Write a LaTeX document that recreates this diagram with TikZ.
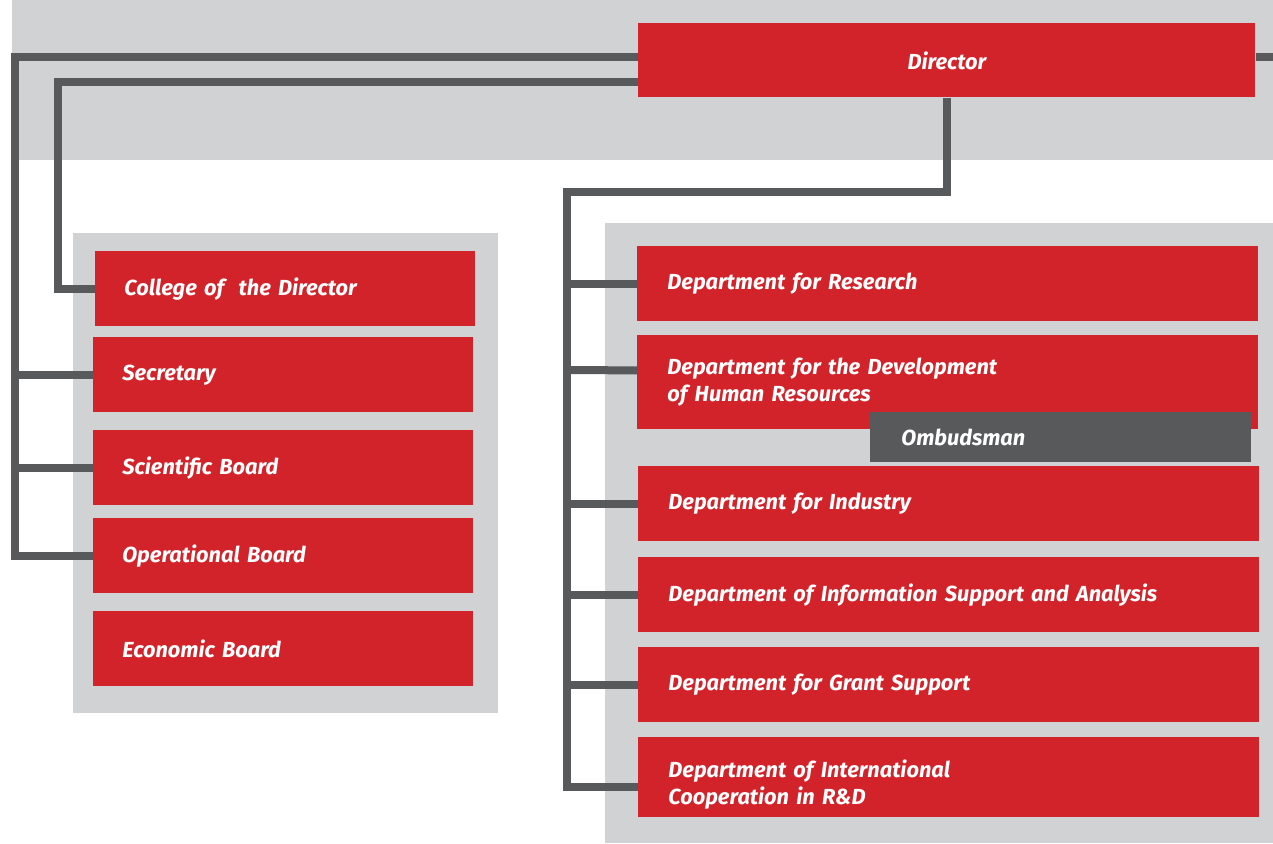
\documentclass[tikz,border=0pt]{standalone}
\usepackage{fontspec}
\setmainfont{Fira Sans}
\usetikzlibrary{calc}

\definecolor{boxred}{HTML}{D2232A}
\definecolor{panelgray}{HTML}{D1D2D4}
\definecolor{linegray}{HTML}{58595B}

\begin{document}
\begin{tikzpicture}[x=0.5pt, y=-0.5pt]

    \tikzstyle{panel} = [fill=panelgray];
    \tikzstyle{unit} = [fill=boxred, text=white, anchor=north west, align=left,
        font=\fontsize{10.9}{13.5}\selectfont\bfseries\itshape, inner ysep=0pt];
    \tikzstyle{leftunit} = [unit, text width=161pt, inner xsep=14.5pt, minimum height=37.5pt];
    \tikzstyle{rightunit} = [unit, text width=280.5pt, inner xsep=15pt, minimum height=37.5pt];
    \tikzstyle{link} = [draw=linegray, line width=4pt];

    \useasboundingbox (0,0) rectangle (1273,843);

    % Panels
    \fill[panel] (12,0) rectangle (1273,160);
    \fill[panel] (73,233) rectangle (498,713);
    \fill[panel] (605,223) rectangle (1273,843);

    % Top
    \node[fill=boxred, text=white, anchor=north west, minimum width=308.5pt, minimum height=37pt,
        font=\fontsize{10.9}{12}\selectfont\bfseries\itshape] (DIR) at (638,23) {Director};

    % Left - Boards
    \node[leftunit] (COL) at (95,251) {College of\ \ the Director};
    \node[leftunit] (SEC) at (93,337) {Secretary};
    \node[leftunit] (SCB) at (93,430) {Scientific Board};
    \node[leftunit] (OPB) at (93,518) {Operational Board};
    \node[leftunit] (ECB) at (93,611) {Economic Board};

    % Right - Departments
    \node[rightunit] (RES) at (637,246) {Department for Research};
    \node[rightunit, minimum height=47pt] (HRD) at (637,335)
        {Department for the Development\\of Human Resources};
    \node[fill=linegray, text=white, anchor=north west, minimum width=190.5pt, minimum height=25pt,
        text width=159.5pt, inner xsep=15.5pt, inner ysep=0pt, align=left,
        font=\fontsize{10.9}{12}\selectfont\bfseries\itshape] (OMB) at (870,412) {Ombudsman};
    \node[rightunit] (IND) at (638,466) {Department for Industry};
    \node[rightunit] (INF) at (638,557) {Department of Information Support and Analysis};
    \node[rightunit] (GRA) at (638,647) {Department for Grant Support};
    \node[rightunit, minimum height=40pt, text depth=9pt] (INT) at (638,737)
        {Department of International\\Cooperation in R\&D};

    % Connectors
    \coordinate (busL) at (15,57);
    \coordinate (busC) at (58,82);
    \coordinate (busR) at (567,192);
    \coordinate (edgeR) at (1273,57);

    \draw[link] (DIR.west |- busL) -- (busL) |- (OPB.west);
    \draw[link] (busL |- SEC.west) -- (SEC.west);
    \draw[link] (busL |- SCB.west) -- (SCB.west);
    \draw[link] (DIR.east |- busL) -- (edgeR);

    \draw[link] (DIR.west |- busC) -- (busC) |- (COL.west);

    \draw[link] (DIR.south) |- (busR) |- ([yshift=-5pt]INT.west);
    \draw[link] (busR |- RES.west) -- (RES.west);
    \draw[link] (busR |- 0,370) -- ([yshift=6pt]HRD.west);
    \draw[link] (busR |- IND.west) -- (IND.west);
    \draw[link] (busR |- INF.west) -- (INF.west);
    \draw[link] (busR |- GRA.west) -- (GRA.west);

\end{tikzpicture}
\end{document}
